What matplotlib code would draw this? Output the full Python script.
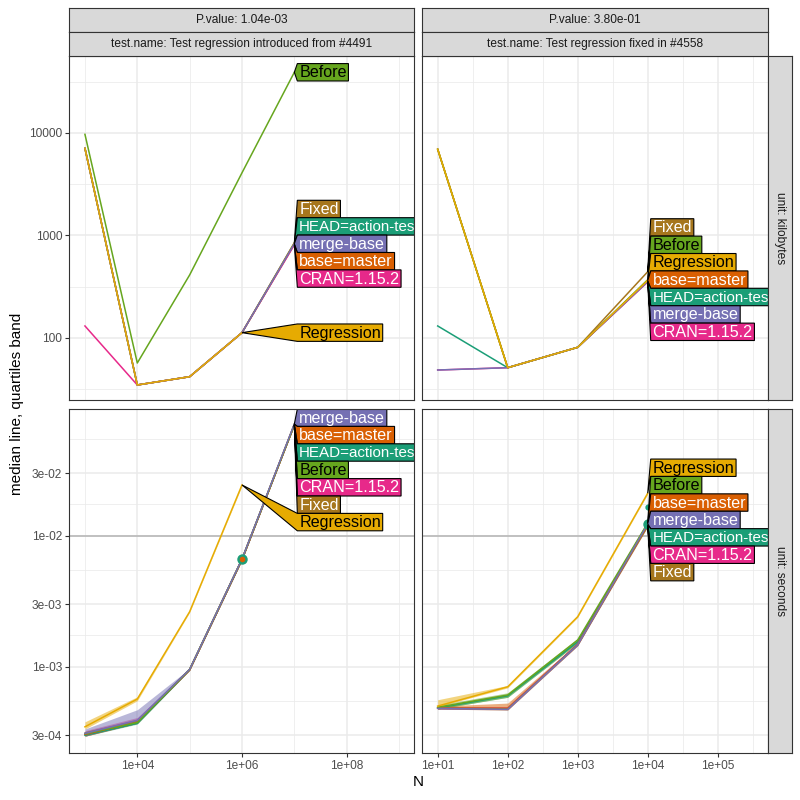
import numpy as np
import matplotlib
matplotlib.use("Agg")
import matplotlib.pyplot as plt
from matplotlib.ticker import FixedLocator, FixedFormatter, NullFormatter
from matplotlib.patches import Polygon
from matplotlib.transforms import IdentityTransform

plt.rcParams['font.family'] = ['Liberation Sans', 'DejaVu Sans']

# ---------------- data ----------------
SERIES = ["HEAD=action-test", "base=master", "merge-base", "CRAN=1.15.2",
          "Before", "Regression", "Fixed"]
COLORS = {"HEAD=action-test": "#1B9E77", "base=master": "#D95F02",
          "merge-base": "#7570B3", "CRAN=1.15.2": "#E7298A",
          "Before": "#66A61E", "Regression": "#E6AB02", "Fixed": "#A6761D"}
TEXT_COLORS = {"HEAD=action-test": "white", "base=master": "white",
               "merge-base": "white", "CRAN=1.15.2": "white",
               "Before": "black", "Regression": "black", "Fixed": "white"}
DRAW_ORDER = ["HEAD=action-test", "base=master", "CRAN=1.15.2", "Fixed",
              "Before", "merge-base", "Regression"]

COL_TITLES_P = ["P.value: 1.04e-03", "P.value: 3.80e-01"]
COL_TITLES_T = ["test.name: Test regression introduced from #4491",
                "test.name: Test regression fixed in #4558"]
ROW_TITLES = ["unit: kilobytes", "unit: seconds"]

N_LEFT = [1e3, 1e4, 1e5, 1e6, 1e7]
N_RIGHT = [1e1, 1e2, 1e3, 1e4]

# kilobytes, left column
KB_LEFT = {
    "HEAD=action-test": [7080, 34.8, 41.9, 112.7, 840],
    "base=master": [7080, 34.8, 41.9, 112.7, 820],
    "merge-base": [7080, 34.8, 41.9, 112.7, 830],
    "CRAN=1.15.2": [131, 34.8, 41.9, 112.7, 810],
    "Before": [9700, 57, 412, 4090, 39100],
    "Regression": [7080, 34.8, 41.9, 112.7],
    "Fixed": [7080, 34.8, 41.9, 112.7, 850],
}
# kilobytes, right column
KB_RIGHT = {
    "HEAD=action-test": [131, 51.3, 81.1, 358],
    "base=master": [6930, 51.3, 81.1, 362],
    "merge-base": [48.7, 51.3, 81.1, 355],
    "CRAN=1.15.2": [48.7, 51.3, 81.1, 352],
    "Before": [6930, 51.3, 81.1, 370],
    "Regression": [6930, 51.3, 81.1, 365],
    "Fixed": [6930, 51.3, 81.1, 443],
}
# seconds, left column (median, q1, q3)
SEC_LEFT = {
    "HEAD=action-test": [3.00e-4, 3.70e-4, 9.50e-4, 6.60e-3, 0.0705],
    "base=master": [3.05e-4, 3.80e-4, 9.50e-4, 6.60e-3, 0.0708],
    "merge-base": [3.10e-4, 3.90e-4, 9.55e-4, 6.64e-3, 0.0712],
    "CRAN=1.15.2": [3.10e-4, 3.85e-4, 9.50e-4, 6.60e-3, 0.0700],
    "Before": [3.10e-4, 3.75e-4, 9.55e-4, 6.62e-3, 0.0702],
    "Regression": [3.48e-4, 5.67e-4, 2.63e-3, 0.0244],
    "Fixed": [3.05e-4, 3.80e-4, 9.50e-4, 6.60e-3, 0.0698],
}
SEC_LEFT_Q1 = {
    "HEAD=action-test": [2.95e-4, 3.65e-4, 9.40e-4, 6.50e-3, 0.0700],
    "base=master": [2.95e-4, 3.70e-4, 9.40e-4, 6.50e-3, 0.0700],
    "merge-base": [2.95e-4, 3.75e-4, 9.45e-4, 6.55e-3, 0.0705],
    "CRAN=1.15.2": [3.00e-4, 3.75e-4, 9.40e-4, 6.50e-3, 0.0695],
    "Before": [3.00e-4, 3.70e-4, 9.45e-4, 6.55e-3, 0.0698],
    "Regression": [3.35e-4, 5.50e-4, 2.60e-3, 0.0240],
    "Fixed": [2.95e-4, 3.70e-4, 9.40e-4, 6.50e-3, 0.0693],
}
SEC_LEFT_Q3 = {
    "HEAD=action-test": [3.15e-4, 3.85e-4, 9.60e-4, 6.70e-3, 0.0710],
    "base=master": [3.20e-4, 4.00e-4, 9.60e-4, 6.70e-3, 0.0712],
    "merge-base": [3.35e-4, 4.70e-4, 9.70e-4, 6.75e-3, 0.0718],
    "CRAN=1.15.2": [3.25e-4, 4.10e-4, 9.60e-4, 6.70e-3, 0.0705],
    "Before": [3.20e-4, 3.90e-4, 9.65e-4, 6.70e-3, 0.0708],
    "Regression": [3.80e-4, 5.90e-4, 2.66e-3, 0.0248],
    "Fixed": [3.20e-4, 3.95e-4, 9.60e-4, 6.70e-3, 0.0703],
}
# seconds, right column
SEC_RIGHT = {
    "HEAD=action-test": [4.85e-4, 6.00e-4, 1.55e-3, 0.0121],
    "base=master": [4.85e-4, 4.83e-4, 1.48e-3, 0.0124],
    "merge-base": [4.81e-4, 4.73e-4, 1.47e-3, 0.0123],
    "CRAN=1.15.2": [4.82e-4, 4.80e-4, 1.49e-3, 0.0120],
    "Before": [4.90e-4, 6.08e-4, 1.60e-3, 0.0125],
    "Regression": [5.01e-4, 7.03e-4, 2.41e-3, 0.0211],
    "Fixed": [4.83e-4, 4.78e-4, 1.48e-3, 0.0119],
}
SEC_RIGHT_Q1 = {
    "HEAD=action-test": [4.75e-4, 5.85e-4, 1.52e-3, 0.0119],
    "base=master": [4.75e-4, 4.67e-4, 1.45e-3, 0.0122],
    "merge-base": [4.75e-4, 4.68e-4, 1.45e-3, 0.0121],
    "CRAN=1.15.2": [4.75e-4, 4.72e-4, 1.46e-3, 0.0118],
    "Before": [4.76e-4, 5.84e-4, 1.52e-3, 0.0123],
    "Regression": [4.95e-4, 6.90e-4, 2.38e-3, 0.0208],
    "Fixed": [4.75e-4, 4.70e-4, 1.45e-3, 0.0117],
}
SEC_RIGHT_Q3 = {
    "HEAD=action-test": [4.95e-4, 6.20e-4, 1.60e-3, 0.0123],
    "base=master": [5.00e-4, 5.28e-4, 1.52e-3, 0.0126],
    "merge-base": [4.88e-4, 4.80e-4, 1.50e-3, 0.0125],
    "CRAN=1.15.2": [4.90e-4, 4.90e-4, 1.52e-3, 0.0122],
    "Before": [5.10e-4, 6.33e-4, 1.65e-3, 0.0127],
    "Regression": [5.60e-4, 7.20e-4, 2.45e-3, 0.0214],
    "Fixed": [4.92e-4, 4.90e-4, 1.51e-3, 0.0121],
}

TIME_LIMIT = 0.01

POINT_PANEL = [(1, 0), (1, 0), (1, 1), (1, 1)]
POINT_N = [1e6, 1e6, 1e4, 1e4]
POINT_Y = [6.64e-3, 6.64e-3, 0.0122, 0.0166]
POINT_SERIES = ["HEAD=action-test", "base=master", "HEAD=action-test", "HEAD=action-test"]
POINT_SIZE = [6.5, 3.0, 6.5, 3.5]

X_TICKS = [[1e4, 1e6, 1e8], [1e1, 1e2, 1e3, 1e4, 1e5]]
X_TICK_LABELS = [["1e+04", "1e+06", "1e+08"],
                 ["1e+01", "1e+02", "1e+03", "1e+04", "1e+05"]]
X_MINOR = [[1e3, 1e5, 1e7, 1e9], [10 ** 1.5, 10 ** 2.5, 10 ** 3.5, 10 ** 4.5, 10 ** 5.5]]
Y_TICKS = [[100, 1000, 10000], [3e-4, 1e-3, 3e-3, 1e-2, 3e-2]]
Y_TICK_LABELS = [["100", "1000", "10000"],
                 ["3e-04", "1e-03", "3e-03", "1e-02", "3e-02"]]
Y_MINOR = [[10 ** 1.5, 10 ** 2.5, 10 ** 3.5, 10 ** 4.5],
           [5.477e-4, 1.732e-3, 5.477e-3, 1.732e-2, 5.477e-2]]

X_LIMS = [(10 ** 2.701, 10 ** 9.286), (10 ** 0.78, 10 ** 5.714)]
Y_LIMS = [(10 ** 1.395, 10 ** 4.754), (10 ** -3.656, 10 ** -1.033)]

# ---------------- layout (pixels) ----------------
W = H = 800
COL_X = [(69.3, 414.0), (422.3, 767.7)]
ROW_Y = [(55.7, 400.0), (409.0, 752.7)]
STRIP1 = (8.0, 31.7)
STRIP2 = (31.7, 55.7)
RSTRIP_X = (767.7, 791.7)

fig = plt.figure(figsize=(8, 8), dpi=100)


def fig_rect(x0, x1, y0, y1):
    return [x0 / W, 1 - y1 / H, (x1 - x0) / W, (y1 - y0) / H]


GRID_C = "#EBEBEB"
BORDER_C = "#333333"

axes = {}
data_sets = {(0, 0): (N_LEFT, KB_LEFT, None, None),
             (0, 1): (N_RIGHT, KB_RIGHT, None, None),
             (1, 0): (N_LEFT, SEC_LEFT, SEC_LEFT_Q1, SEC_LEFT_Q3),
             (1, 1): (N_RIGHT, SEC_RIGHT, SEC_RIGHT_Q1, SEC_RIGHT_Q3)}

for r in range(2):
    for c in range(2):
        ax = fig.add_axes(fig_rect(COL_X[c][0], COL_X[c][1], ROW_Y[r][0], ROW_Y[r][1]))
        axes[(r, c)] = ax
        ax.set_xscale('log')
        ax.set_yscale('log')
        ax.set_facecolor('white')
        ax.xaxis.set_major_locator(FixedLocator(X_TICKS[c]))
        ax.xaxis.set_minor_locator(FixedLocator(X_MINOR[c]))
        ax.yaxis.set_major_locator(FixedLocator(Y_TICKS[r]))
        ax.yaxis.set_minor_locator(FixedLocator(Y_MINOR[r]))
        ax.xaxis.set_minor_formatter(NullFormatter())
        ax.yaxis.set_minor_formatter(NullFormatter())
        if r == 1:
            ax.xaxis.set_major_formatter(FixedFormatter(X_TICK_LABELS[c]))
        else:
            ax.xaxis.set_major_formatter(NullFormatter())
        if c == 0:
            ax.yaxis.set_major_formatter(FixedFormatter(Y_TICK_LABELS[r]))
        else:
            ax.yaxis.set_major_formatter(NullFormatter())
        ax.tick_params(which='major', direction='out', length=3.0, width=0.8,
                       color=BORDER_C, labelcolor='#4D4D4D', labelsize=8.6, pad=2)
        ax.tick_params(which='minor', length=0)
        if r == 0:
            ax.tick_params(axis='x', which='major', length=0)
        if c == 1:
            ax.tick_params(axis='y', which='major', length=0)
        ax.grid(True, which='major', color=GRID_C, lw=1.1)
        ax.grid(True, which='minor', color=GRID_C, lw=0.55)
        ax.set_axisbelow(True)
        for s in ax.spines.values():
            s.set_color(BORDER_C)
            s.set_linewidth(0.8)
            s.set_zorder(10)

        ns, med, q1, q3 = data_sets[(r, c)]
        if r == 1:
            ax.axhline(TIME_LIMIT, color='#B3B3B3', lw=1.1, zorder=1)
        for name in DRAW_ORDER:
            vals = med[name]
            xs = ns[:len(vals)]
            if q1 is not None:
                ax.fill_between(xs, q1[name], q3[name], color=COLORS[name],
                                alpha=0.5, lw=0, zorder=2)
            ax.plot(xs, vals, color=COLORS[name], lw=1.1, zorder=3,
                    solid_joinstyle='round')
        ax.set_xlim(*X_LIMS[c])
        ax.set_ylim(*Y_LIMS[r])
        ax.set_autoscale_on(False)

for (pr, pc), n, y, s, ms in zip(POINT_PANEL, POINT_N, POINT_Y, POINT_SERIES, POINT_SIZE):
    axes[(pr, pc)].plot([n], [y], marker='o', ms=ms, color=COLORS[s],
                        mec=COLORS[s], lw=0, zorder=4)

# ---------------- strips ----------------
STRIP_FILL = "#D9D9D9"
for c in range(2):
    for (y0, y1), txt in ((STRIP1, COL_TITLES_P[c]), (STRIP2, COL_TITLES_T[c])):
        sa = fig.add_axes(fig_rect(COL_X[c][0], COL_X[c][1], y0, y1))
        sa.set_facecolor(STRIP_FILL)
        sa.set_xticks([]); sa.set_yticks([])
        for s in sa.spines.values():
            s.set_color(BORDER_C); s.set_linewidth(0.8)
        sa.text(0.5, 0.5, txt, ha='center', va='center', fontsize=8.6,
                color='#1A1A1A', transform=sa.transAxes)
for r in range(2):
    sa = fig.add_axes(fig_rect(RSTRIP_X[0], RSTRIP_X[1], ROW_Y[r][0], ROW_Y[r][1]))
    sa.set_facecolor(STRIP_FILL)
    sa.set_xticks([]); sa.set_yticks([])
    for s in sa.spines.values():
        s.set_color(BORDER_C); s.set_linewidth(0.8)
    sa.text(0.5, 0.5, ROW_TITLES[r], ha='center', va='center', fontsize=8.6,
            color='#1A1A1A', rotation=-90, transform=sa.transAxes)

fig.text(418 / W, 1 - 782 / H, "N", ha='center', va='center', fontsize=11)
fig.text(17 / W, 1 - 404 / H, "median line, quartiles band", ha='center',
         va='center', rotation=90, fontsize=11)

# ---------------- direct labels ----------------
renderer = fig.canvas.get_renderer()
IDT = IdentityTransform()


def place_labels(ax, ns, med, h=17.4, pad=1.8):
    bb = ax.bbox
    pts = []
    for name in SERIES:
        vals = med[name]
        xs = ns[:len(vals)]
        tx, ty = ax.transData.transform((xs[-1], vals[-1]))
        pts.append((name, tx, ty))
    left = max(p[1] for p in pts) + 3
    pts.sort(key=lambda p: -p[2])

    def clamp(g):
        half = len(g['idx']) * h / 2
        g['c'] = min(max(g['c'], bb.y0 + half), bb.y1 - half)

    groups = []
    for i in range(len(pts)):
        g = {'idx': [i], 'c': pts[i][2]}
        clamp(g)
        groups.append(g)
    changed = True
    while changed:
        changed = False
        for k in range(len(groups) - 1):
            g1, g2 = groups[k], groups[k + 1]
            if g1['c'] - len(g1['idx']) * h / 2 < g2['c'] + len(g2['idx']) * h / 2 - 1e-6:
                idx = g1['idx'] + g2['idx']
                ng = {'idx': idx, 'c': float(np.mean([pts[i][2] for i in idx]))}
                clamp(ng)
                groups[k:k + 2] = [ng]
                changed = True
                break
    for g in groups:
        top = g['c'] + len(g['idx']) * h / 2
        for j, i in enumerate(g['idx']):
            name, tx, ty = pts[i]
            cy = top - (j + 0.5) * h
            fs = 10.9 if name == "HEAD=action-test" else 11.6
            t = ax.text(left + pad, cy - 0.5, name, transform=IDT, ha='left',
                        va='center', fontsize=fs, color=TEXT_COLORS[name],
                        zorder=8, clip_on=True)
            t.set_clip_box(bb)
            w = t.get_window_extent(renderer).width
            right = left + pad + w + pad
            poly = Polygon([(tx, ty), (left, cy + h / 2), (right, cy + h / 2),
                            (right, cy - h / 2), (left, cy - h / 2)], closed=True,
                           facecolor=COLORS[name], edgecolor='black', lw=0.8,
                           transform=IDT, zorder=7)
            ax.add_patch(poly)
            poly.set_clip_box(bb)
            poly.set_clip_on(True)


for (r, c), (ns, med, _, _) in data_sets.items():
    place_labels(axes[(r, c)], ns, med)

fig.savefig("out.png", dpi=100)
